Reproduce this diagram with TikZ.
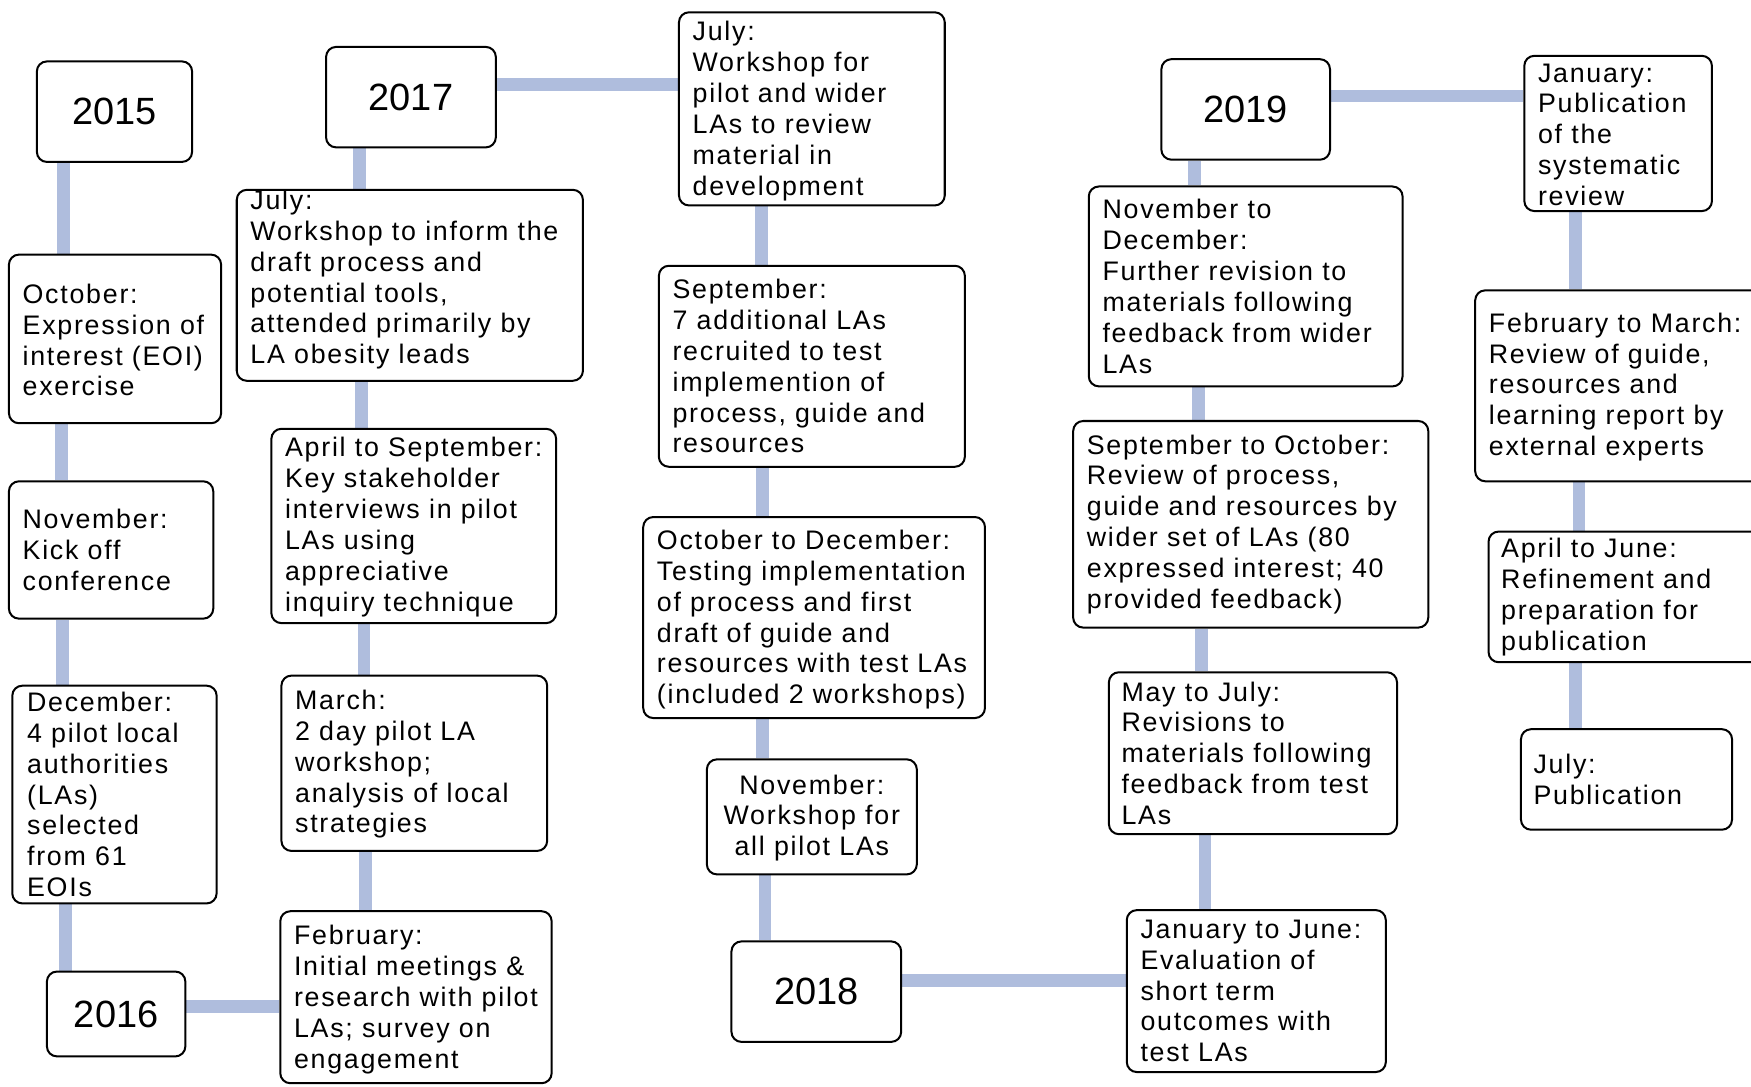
\documentclass[tikz,border=0pt]{standalone}
\usepackage{fontspec}
\setmainfont{Liberation Sans}
\newfontfamily\bodyfam[LetterSpace=6.5]{Liberation Sans}
\usetikzlibrary{fit}
\definecolor{connc}{RGB}{175,189,221}
\pgfdeclarelayer{bg}
\pgfsetlayers{bg,main}
\tikzset{
  box/.style={draw=black, line width=1.8pt, rounded corners=9pt, fill=white, inner sep=0pt},
  txt/.style={font=\bodyfam\fontsize{24}{27.6}\selectfont, align=left, inner sep=0pt, anchor=west},
  yr/.style={font=\fontsize{34}{40}\selectfont, inner sep=0pt},
  conn/.style={draw=connc, line width=11.5pt},
}
\begin{document}
\begin{tikzpicture}[x=1pt,y=-1pt]
\useasboundingbox (0,0) rectangle (1568,973);
\clip (0,0) rectangle (1568,973);

% ---------- column 1 ----------
\node[box, fit={(33,55) (172,145)}] (y2015) {};
\node[yr] (t2015) at (y2015.center) {2015};
\node[box, fit={(8,228) (198,379)}] (oct) {};
\node[txt] (toct) at ([xshift=13pt,yshift=-1pt]oct.west) {October:\\Expression of\\interest (EOI)\\exercise};
\node[box, fit={(8,431) (191,554)}] (nov) {};
\node[txt] (tnov) at ([xshift=13pt]nov.west) {November:\\Kick off\\conference};
\node[box, fit={(11,614) (194,809)}] (dec) {};
\node[txt] (tdec) at ([xshift=14pt]dec.west) {December:\\4 pilot local\\authorities\\(LAs)\\selected\\from 61\\EOIs};
\node[box, fit={(42,870) (166,946)}] (y2016) {};
\node[yr] (t2016) at (y2016.center) {2016};

% ---------- column 2 ----------
\node[box, fit={(292,42) (444,132)}] (y2017) {};
\node[yr] (t2017) at (y2017.center) {2017};
\node[box, fit={(212,170) (522,341)}] (jul16) {};
\node[txt] (tjul16) at ([xshift=13pt,yshift=5pt]jul16.west) {July:\\Workshop to inform the\\draft process and\\potential tools,\\attended primarily by\\LA obesity leads};
\node[box, fit={(243,384) (498,558)}] (apr16) {};
\node[txt] (tapr16) at ([xshift=13pt,yshift=-1pt]apr16.west) {April to September:\\Key stakeholder\\interviews in pilot\\LAs using\\appreciative\\inquiry technique};
\node[box, fit={(252,605) (490,762)}] (mar16) {};
\node[txt] (tmar16) at ([xshift=13pt,yshift=-1pt]mar16.west) {March:\\2 day pilot LA\\workshop;\\analysis of local\\strategies};
\node[box, fit={(251,816) (494,970)}] (feb16) {};
\node[txt] (tfeb16) at ([xshift=13pt,yshift=-2pt]feb16.west) {February:\\Initial meetings \&\\research with pilot\\LAs; survey on\\engagement};

% ---------- column 3 ----------
\node[box, fit={(608,11) (846,184)}] (jul17) {};
\node[txt] (tjul17) at ([xshift=13pt,yshift=-2pt]jul17.west) {July:\\Workshop for\\pilot and wider\\LAs to review\\material in\\development};
\node[box, fit={(590,238) (864,418)}] (sep17) {};
\node[txt] (tsep17) at ([xshift=13pt]sep17.west) {September:\\7 additional LAs\\recruited to test\\implemention of\\process, guide and\\resources};
\node[box, fit={(576,463) (882,643)}] (oct17) {};
\node[txt] (toct17) at ([xshift=13pt,yshift=-2pt]oct17.west) {October to December:\\Testing implementation\\of process and first\\draft of guide and\\resources with test LAs\\(included 2 workshops)};
\node[box, fit={(633,680) (821,783)}] (nov17) {};
\node[txt, align=center, anchor=center] (tnov17) at ([yshift=-1pt]nov17.center) {November:\\Workshop for\\all pilot LAs};
\node[box, fit={(655,843) (807,933)}] (y2018) {};
\node[yr] (t2018) at (y2018.center) {2018};

% ---------- column 4 ----------
\node[box, fit={(1040,53) (1191,143)}] (y2019) {};
\node[yr] (t2019) at (y2019.center) {2019};
\node[box, fit={(975,167) (1256,346)}] (nov18) {};
\node[txt] (tnov18) at ([xshift=13pt]nov18.west) {November to\\December:\\Further revision to\\materials following\\feedback from wider\\LAs};
\node[box, fit={(961,377) (1279,562)}] (sep18) {};
\node[txt] (tsep18) at ([xshift=13pt]sep18.west) {September to October:\\Review of process,\\guide and resources by\\wider set of LAs (80\\expressed interest; 40\\provided feedback)};
\node[box, fit={(993,602) (1251,747)}] (may18) {};
\node[txt] (tmay18) at ([xshift=12pt]may18.west) {May to July:\\Revisions to\\materials following\\feedback from test\\LAs};
\node[box, fit={(1009,815) (1241,960)}] (jan18) {};
\node[txt] (tjan18) at ([xshift=13pt]jan18.west) {January to June:\\Evaluation of\\short term\\outcomes with\\test LAs};

% ---------- column 5 ----------
\node[box, fit={(1365,50) (1533,189)}] (jan19) {};
\node[txt] (tjan19) at ([xshift=13pt,yshift=-1pt]jan19.west) {January:\\Publication\\of the\\systematic\\review};
\node[box, fit={(1321,260) (1585,431)}] (feb19) {};
\node[txt] (tfeb19) at ([xshift=13pt,yshift=-1pt]feb19.west) {February to March:\\Review of guide,\\resources and\\learning report by\\external experts};
\node[box, fit={(1333,476) (1585,593)}] (apr19) {};
\node[txt] (tapr19) at ([xshift=12pt]apr19.west) {April to June:\\Refinement and\\preparation for\\publication};
\node[box, fit={(1362,653) (1551,743)}] (jul19) {};
\node[txt] (tjul19) at ([xshift=12pt]jul19.west) {July:\\Publication};

% ---------- connector guide coordinates ----------
\coordinate (x1a) at (57,0);  \coordinate (x1b) at (55,0);
\coordinate (x1c) at (56,0);  \coordinate (x1d) at (59,0);
\coordinate (x2a) at (322,0); \coordinate (x2b) at (324,0);
\coordinate (x2c) at (326,0); \coordinate (x2d) at (327,0);
\coordinate (x3a) at (682,0); \coordinate (x3b) at (683,0);
\coordinate (x3c) at (683,0); \coordinate (x3d) at (685,0);
\coordinate (x4a) at (1070,0); \coordinate (x4b) at (1073,0);
\coordinate (x4c) at (1076,0); \coordinate (x4d) at (1079,0);
\coordinate (x5a) at (1411,0); \coordinate (x5b) at (1414,0);
\coordinate (x5c) at (1411,0);
\coordinate (h1) at (0,901);
\coordinate (h2) at (0,76);
\coordinate (h3) at (0,878);
\coordinate (h4) at (0,86);

\begin{pgfonlayer}{bg}
  % column 1
  \draw[conn] (y2015.south -| x1a) -- (oct.north -| x1a);
  \draw[conn] (oct.south -| x1b) -- (nov.north -| x1b);
  \draw[conn] (nov.south -| x1c) -- (dec.north -| x1c);
  \draw[conn] (dec.south -| x1d) -- (y2016.north -| x1d);
  \draw[conn] (y2016.east |- h1) -- (feb16.west |- h1);
  % column 2
  \draw[conn] (y2017.south -| x2a) -- (jul16.north -| x2a);
  \draw[conn] (jul16.south -| x2b) -- (apr16.north -| x2b);
  \draw[conn] (apr16.south -| x2c) -- (mar16.north -| x2c);
  \draw[conn] (mar16.south -| x2d) -- (feb16.north -| x2d);
  \draw[conn] (y2017.east |- h2) -- (jul17.west |- h2);
  % column 3
  \draw[conn] (jul17.south -| x3a) -- (sep17.north -| x3a);
  \draw[conn] (sep17.south -| x3b) -- (oct17.north -| x3b);
  \draw[conn] (oct17.south -| x3c) -- (nov17.north -| x3c);
  \draw[conn] (nov17.south -| x3d) -- (y2018.north -| x3d);
  \draw[conn] (y2018.east |- h3) -- (jan18.west |- h3);
  % column 4
  \draw[conn] (y2019.south -| x4a) -- (nov18.north -| x4a);
  \draw[conn] (nov18.south -| x4b) -- (sep18.north -| x4b);
  \draw[conn] (sep18.south -| x4c) -- (may18.north -| x4c);
  \draw[conn] (may18.south -| x4d) -- (jan18.north -| x4d);
  \draw[conn] (y2019.east |- h4) -- (jan19.west |- h4);
  % column 5
  \draw[conn] (jan19.south -| x5a) -- (feb19.north -| x5a);
  \draw[conn] (feb19.south -| x5b) -- (apr19.north -| x5b);
  \draw[conn] (apr19.south -| x5c) -- (jul19.north -| x5c);
\end{pgfonlayer}
\end{tikzpicture}
\end{document}
